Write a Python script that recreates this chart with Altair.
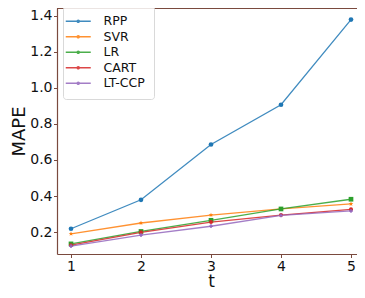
import altair as alt
import pandas as pd

t_values = [1, 2, 3, 4, 5]
series_names = ["RPP", "SVR", "LR", "CART", "LT-CCP"]
rpp = [0.218, 0.379, 0.686, 0.907, 1.380]
svr = [0.190, 0.250, 0.294, 0.328, 0.356]
lr = [0.134, 0.203, 0.265, 0.328, 0.382]
cart = [0.127, 0.198, 0.255, 0.294, 0.326]
ltccp = [0.121, 0.183, 0.232, 0.292, 0.317]
colors = ["#1f77b4", "#ff7f0e", "#2ca02c", "#d62728", "#9467bd"]

rows = []
for name, vals in zip(series_names, [rpp, svr, lr, cart, ltccp]):
    for t, v in zip(t_values, vals):
        rows.append({"t": t, "MAPE": v, "method": name})
df = pd.DataFrame(rows)

star = "M0,-1L0.24,-0.33L0.95,-0.31L0.38,0.12L0.59,0.81L0,0.4L-0.59,0.81L-0.38,0.12L-0.95,-0.31L-0.24,-0.33Z"
shapes = ["circle", star, "square", "circle", "cross"]
sizes = [22, 24, 22, 16, 14]

legend_path = "M-2.5,0H2.5M-0.2,0a0.2,0.2 0 1,0 0.4,0a0.2,0.2 0 1,0 -0.4,0"

axis_col = "#7a4a3e"
color_scale = alt.Scale(domain=series_names, range=colors)
legend = alt.Legend(
    title=None, orient="none", legendX=6, legendY=-2,
    symbolType=legend_path, symbolSize=100, symbolStrokeWidth=1.6,
    labelFontSize=12.5, labelFont="DejaVu Sans", labelColor="#111111",
    rowPadding=2.5, padding=9, labelOffset=19,
    strokeColor="#d9d9d9", fillColor="rgba(255,255,255,0.85)", cornerRadius=3,
)

x_scale = alt.Scale(domain=[0.8, 5.2], nice=False, zero=False)
y_scale = alt.Scale(domain=[0.0778, 1.4444], nice=False, zero=False)

x_enc = alt.X("t:Q", title="t", scale=x_scale,
              axis=alt.Axis(values=t_values, format="d", grid=False, tickSize=3.5,
                            labelPadding=1.5, titlePadding=0, labelFontSize=14,
                            titleFontSize=17, titleFontWeight="normal", labelFlush=False))
y_enc = alt.Y("MAPE:Q", title="MAPE", scale=y_scale,
              axis=alt.Axis(values=[0.2, 0.4, 0.6, 0.8, 1.0, 1.2, 1.4], format=".1f",
                            grid=False, tickSize=3.5, labelPadding=1.5, titlePadding=1,
                            labelFontSize=14, titleFontSize=18, titleFontWeight="normal",
                            labelFlush=False))

lines = alt.Chart(df).mark_line(strokeWidth=1.3, opacity=0.85).encode(
    x=x_enc, y=y_enc,
    color=alt.Color("method:N", scale=color_scale, sort=series_names, legend=legend),
)

point_layers = []
for name, shp, sz in zip(series_names, shapes, sizes):
    point_layers.append(
        alt.Chart(df).transform_filter(alt.datum.method == name)
        .mark_point(filled=True, opacity=1, shape=shp, size=sz)
        .encode(x=x_enc, y=y_enc,
                color=alt.Color("method:N", scale=color_scale, sort=series_names, legend=None))
    )

# top spine of the frame
top_spine = alt.Chart(df).mark_rule(color=axis_col, strokeWidth=1.2).encode(
    x=alt.value(0), x2=alt.value(308), y=alt.value(0)
)

chart = alt.layer(lines, *point_layers, top_spine).properties(
    width=308, height=246,
    autosize=alt.AutoSizeParams(type="none"),
    padding={"left": 49, "top": 0, "right": -8, "bottom": 36},
).configure_view(stroke=None).configure_axis(
    domainColor=axis_col, tickColor=axis_col, labelColor="#111111", titleColor="#111111",
    labelFont="DejaVu Sans", titleFont="DejaVu Sans", domainWidth=1.2,
)

chart.save("out.html", embed_options={"renderer": "svg", "actions": False})
